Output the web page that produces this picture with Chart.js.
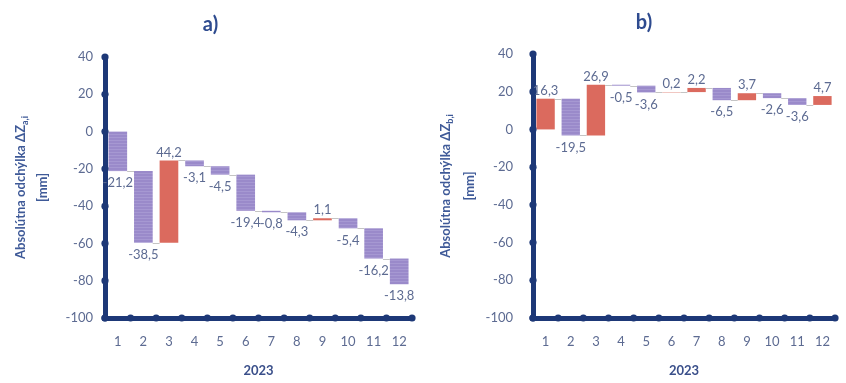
<!DOCTYPE html>
<html>
<head>
<meta charset="utf-8">
<script src="https://cdn.jsdelivr.net/npm/chart.js@4.4.1/dist/chart.umd.min.js"></script>
<style>
html, body { margin: 0; padding: 0; background: #fff; }
#wrap { position: relative; width: 846px; height: 383px; overflow: hidden; }
.box { position: absolute; top: 0; width: 423px; height: 383px; }
</style>
</head>
<body>
<div id="wrap">
  <div class="box" style="left:0"><canvas id="chart-a"></canvas></div>
  <div class="box" style="left:423px"><canvas id="chart-b"></canvas></div>
</div>
<script>
const months = ["1", "2", "3", "4", "5", "6", "7", "8", "9", "10", "11", "12"];
// monthly changes [mm]
const deltaA = [-21.2, -38.5, 44.2, -3.1, -4.5, -19.4, -0.8, -4.3, 1.1, -5.4, -16.2, -13.8];
const deltaB = [16.3, -19.5, 26.9, -0.5, -3.6, 0.2, 2.2, -6.5, 3.7, -2.6, -3.6, 4.7];
const yMin = -100, yMax = 40, yStep = 20;
const xTitle = "2023";
const yTitleMain = "Absolútna odchýlka ΔZ";
const yUnit = "[mm]";

const NAVY = "#1d3877";
const TEXT = "#5d6b92";
const FONT = "Lato, 'Open Sans', sans-serif";

function fmt(v) { return v.toFixed(1).replace(".", ","); }

function floats(deltas) {
    let run = 0;
    return deltas.map((d) => { const s = run; run = Math.round((run + d) * 10) / 10; return [s, run]; });
}

function stripePattern() {
    const c = document.createElement("canvas");
    c.width = 4; c.height = 3;
    const g = c.getContext("2d");
    g.fillStyle = "#9a8aca"; g.fillRect(0, 0, 4, 3);
    g.fillStyle = "#a698d2"; g.fillRect(0, 2, 4, 1);
    return g.createPattern(c, "repeat");
}

const decor = {
    id: "decor",
    afterDatasetsDraw(chart) {
        const ctx = chart.ctx;
        const meta = chart.getDatasetMeta(0);
        const ds = chart.data.datasets[0];
        const y = chart.scales.y;
        ctx.save();
        // connector lines
        ctx.strokeStyle = "#c4c4c4"; ctx.lineWidth = 1;
        meta.data.forEach((bar, i) => {
            if (i === meta.data.length - 1) return;
            const next = meta.data[i + 1];
            const py = Math.round(y.getPixelForValue(ds.data[i][1])) + 0.5;
            ctx.beginPath();
            ctx.moveTo(bar.x + bar.width / 2, py);
            ctx.lineTo(next.x - next.width / 2, py);
            ctx.stroke();
        });
        // value labels
        ctx.font = `13px ${FONT}`;
        ctx.fillStyle = TEXT;
        ctx.textAlign = "center"; ctx.textBaseline = "middle";
        meta.data.forEach((bar, i) => {
            const d = ds.deltas[i];
            const top = Math.min(bar.y, bar.base), bot = Math.max(bar.y, bar.base);
            ctx.fillText(fmt(d), bar.x, d < 0 ? bot + 12 : top - 8);
        });
        ctx.restore();
    },
    afterDraw(chart, args, opts) {
        const ctx = chart.ctx;
        const a = chart.chartArea;
        ctx.save();
        ctx.fillStyle = NAVY;
        // dots on the axes
        chart.scales.y.ticks.forEach((t) => {
            ctx.beginPath(); ctx.arc(a.left, chart.scales.y.getPixelForValue(t.value), 3.6, 0, Math.PI * 2); ctx.fill();
        });
        const n = chart.data.labels.length;
        for (let k = 0; k <= n; k++) {
            ctx.beginPath(); ctx.arc(a.left + k * (a.right - a.left) / n, a.bottom, 3.6, 0, Math.PI * 2); ctx.fill();
        }
        // y title with subscript
        const cy = (a.top + a.bottom) / 2;
        ctx.fillStyle = "#3f5a98";
        ctx.textBaseline = "middle";
        ctx.font = `bold 13px ${FONT}`;
        const w1 = ctx.measureText(yTitleMain).width;
        ctx.font = `bold 9px ${FONT}`;
        const w2 = ctx.measureText(opts.sub).width;
        ctx.translate(opts.titleX, cy);
        ctx.rotate(-Math.PI / 2);
        ctx.textAlign = "left";
        ctx.font = `bold 13px ${FONT}`;
        ctx.fillText(yTitleMain, -(w1 + w2) / 2, 0);
        ctx.font = `bold 9px ${FONT}`;
        ctx.fillText(opts.sub, -(w1 + w2) / 2 + w1, 4);
        ctx.font = `bold 13px ${FONT}`;
        ctx.textAlign = "center";
        ctx.fillText(yUnit, 0, opts.unitX - opts.titleX);
        ctx.restore();
    },
};

function makeChart(id, deltas, cfg) {
    const stripes = stripePattern();
    return new Chart(document.getElementById(id), {
        type: "bar",
        data: {
            labels: months,
            datasets: [{
                data: floats(deltas),
                deltas,
                backgroundColor: deltas.map((d) => d < 0 ? stripes : "#db6a5e"),
                borderWidth: 0,
                barPercentage: 0.73,
                categoryPercentage: 1.0,
            }],
        },
        options: {
            responsive: true,
            maintainAspectRatio: false,
            animation: false,
            layout: { padding: { left: cfg.padLeft, right: cfg.padRight, top: 0, bottom: 0 } },
            plugins: {
                legend: { display: false },
                tooltip: { enabled: false },
                title: { display: true, text: cfg.title, color: "#2e4b8f", font: { family: FONT, size: 20, weight: "bold" }, padding: { top: cfg.titleTop, bottom: cfg.titleBottom } },
                decor: { sub: cfg.sub, titleX: cfg.titleX, unitX: cfg.unitX },
            },
            scales: {
                x: {
                    grid: { display: false, drawTicks: false },
                    border: { display: true, color: NAVY, width: 5 },
                    ticks: { color: TEXT, font: { family: FONT, size: 13 }, padding: 16 },
                    title: { display: true, text: xTitle, color: "#3a4f8a", font: { family: FONT, size: 13, weight: "bold" }, padding: { top: 0, bottom: 4 } },
                    afterFit: (s) => { s.height = 65; },
                    z: 1,
                },
                y: {
                    min: yMin, max: yMax,
                    grid: { display: false, drawTicks: false },
                    border: { display: true, color: NAVY, width: 5 },
                    ticks: { stepSize: yStep, color: TEXT, font: { family: FONT, size: 13 }, padding: cfg.tickPad },
                    afterFit: (s) => { s.width = cfg.yWidth; },
                    z: 1,
                },
            },
        },
        plugins: [decor],
    });
}

makeChart("chart-a", deltaA, { title: "a)", sub: "a,i", padLeft: 4, padRight: 6, yWidth: 101, tickPad: 12, titleTop: 13, titleBottom: 20, titleX: 21, unitX: 43 });
makeChart("chart-b", deltaB, { title: "b)", sub: "b,i", padLeft: 20, padRight: 1, yWidth: 90, tickPad: 20, titleTop: 11, titleBottom: 19, titleX: 23, unitX: 47 });
</script>
</body>
</html>
